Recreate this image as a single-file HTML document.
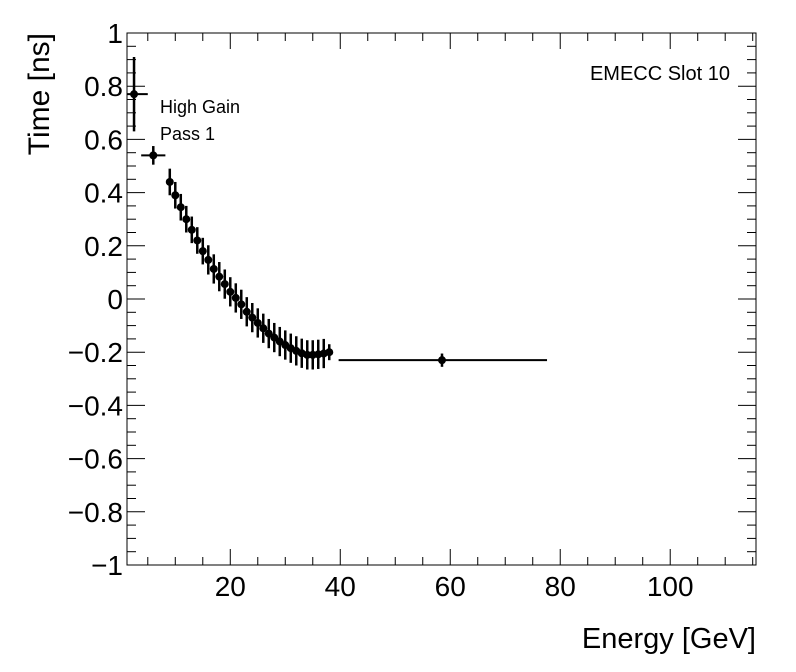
<!DOCTYPE html>
<html><head><meta charset="utf-8"><style>
html,body{margin:0;padding:0;background:#fff;}
svg{display:block;font-family:"Liberation Sans",Arial,sans-serif;}
</style></head><body>
<svg id="chart" width="796" height="672" viewBox="0 0 796 672">
<rect x="0" y="0" width="796" height="672" fill="#fff"/>
<g id="axes"></g>
<g id="marks"></g>
<text x="730" y="80" font-size="20" text-anchor="end">EMECC Slot 10</text>
<text x="160" y="113" font-size="18">High Gain</text>
<text x="160" y="140" font-size="18">Pass 1</text>
<text x="756" y="648" font-size="29" text-anchor="end">Energy [GeV]</text>
<text transform="translate(49,33) rotate(-90)" font-size="30" text-anchor="end">Time [ns]</text>
</svg>
<script>
const energies = [2.5, 6, 9,10,11,12,13,14,15,16,17,18,19,20,21,22,23,24,25,26,27,28,29,30,31,32,33,34,35,36,37,38, 58.5];
const energyErrLo = [1.3, 2.2, 0.5,0.5,0.5,0.5,0.5,0.5,0.5,0.5,0.5,0.5,0.5,0.5,0.5,0.5,0.5,0.5,0.5,0.5,0.5,0.5,0.5,0.5,0.5,0.5,0.5,0.5,0.5,0.5,0.5,0.5, 18.8];
const energyErrHi = [2.5, 2.2, 0.5,0.5,0.5,0.5,0.5,0.5,0.5,0.5,0.5,0.5,0.5,0.5,0.5,0.5,0.5,0.5,0.5,0.5,0.5,0.5,0.5,0.5,0.5,0.5,0.5,0.5,0.5,0.5,0.5,0.5, 19.1];
const times = [0.77, 0.54, 0.44,0.39,0.345,0.30,0.26,0.22,0.18,0.147,0.113,0.084,0.056,0.027,0.004,-0.02,-0.048,-0.07,-0.09,-0.11,-0.13,-0.145,-0.16,-0.173,-0.185,-0.195,-0.204,-0.21,-0.21,-0.208,-0.205,-0.2, -0.23];
const timeErr = [0.14, 0.035, 0.05,0.05,0.05,0.05,0.05,0.05,0.05,0.055,0.055,0.055,0.055,0.055,0.055,0.055,0.055,0.055,0.055,0.055,0.055,0.055,0.055,0.055,0.055,0.055,0.055,0.055,0.055,0.055,0.055,0.03, 0.025];
const xTickLabels = [20,40,60,80,100];
const yTickLabels = [-1,-0.8,-0.6,-0.4,-0.2,0,0.2,0.4,0.6,0.8,1];

const L=127,R=756,T=33,B=565, XMIN=1.22, XMAX=115.6, YMIN=-1, YMAX=1;
const sx=v=>L+(v-XMIN)/(XMAX-XMIN)*(R-L);
const sy=v=>B-(v-YMIN)/(YMAX-YMIN)*(B-T);
const NS='http://www.w3.org/2000/svg';
function mk(tag,attrs,parent){const e=document.createElementNS(NS,tag);for(const k in attrs)e.setAttribute(k,attrs[k]);parent.appendChild(e);return e;}
const ax=document.getElementById('axes'), mg=document.getElementById('marks');
const frame=mk('rect',{x:L,y:T,width:R-L,height:B-T,fill:'none',stroke:'#000','stroke-width':1},ax);


for(let v=5;v<=XMAX;v+=5){const major=v%20===0;const len=major?16:8;const x=sx(v);
 mk('line',{x1:x,x2:x,y1:B,y2:B-len,stroke:'#000'},ax);mk('line',{x1:x,x2:x,y1:T,y2:T+len,stroke:'#000'},ax);}
xTickLabels.forEach(v=>{const t=mk('text',{x:sx(v),y:596,'font-size':28,'text-anchor':'middle'},ax);t.textContent=v;
 
 });
for(let i=0;i<=40;i++){const v=-1+i*0.05;const major=i%4===0;const len=major?18:9;const y=sy(v);
 mk('line',{x1:L,x2:L+len,y1:y,y2:y,stroke:'#000'},ax);mk('line',{x1:R,x2:R-len,y1:y,y2:y,stroke:'#000'},ax);}
yTickLabels.forEach(v=>{const t=mk('text',{x:123,y:sy(v)+10,'font-size':28,'text-anchor':'end'},ax);
 t.textContent=(v<0?'\u2212':'')+String(Math.abs(v));
 
 });
energies.forEach((e,i)=>{const g=mk('g',{},mg);
 
 
 const x=sx(e),y=sy(times[i]);
 mk('line',{x1:sx(Math.max(XMIN,e-energyErrLo[i])),x2:sx(e+energyErrHi[i]),y1:y,y2:y,stroke:'#000','stroke-width':2},g);
 mk('line',{x1:x,x2:x,y1:sy(times[i]+timeErr[i]),y2:sy(times[i]-timeErr[i]),stroke:'#000','stroke-width':2.5},g);
 mk('circle',{cx:x,cy:y,r:4,fill:'#000'},g);});
</script>
</body></html>
